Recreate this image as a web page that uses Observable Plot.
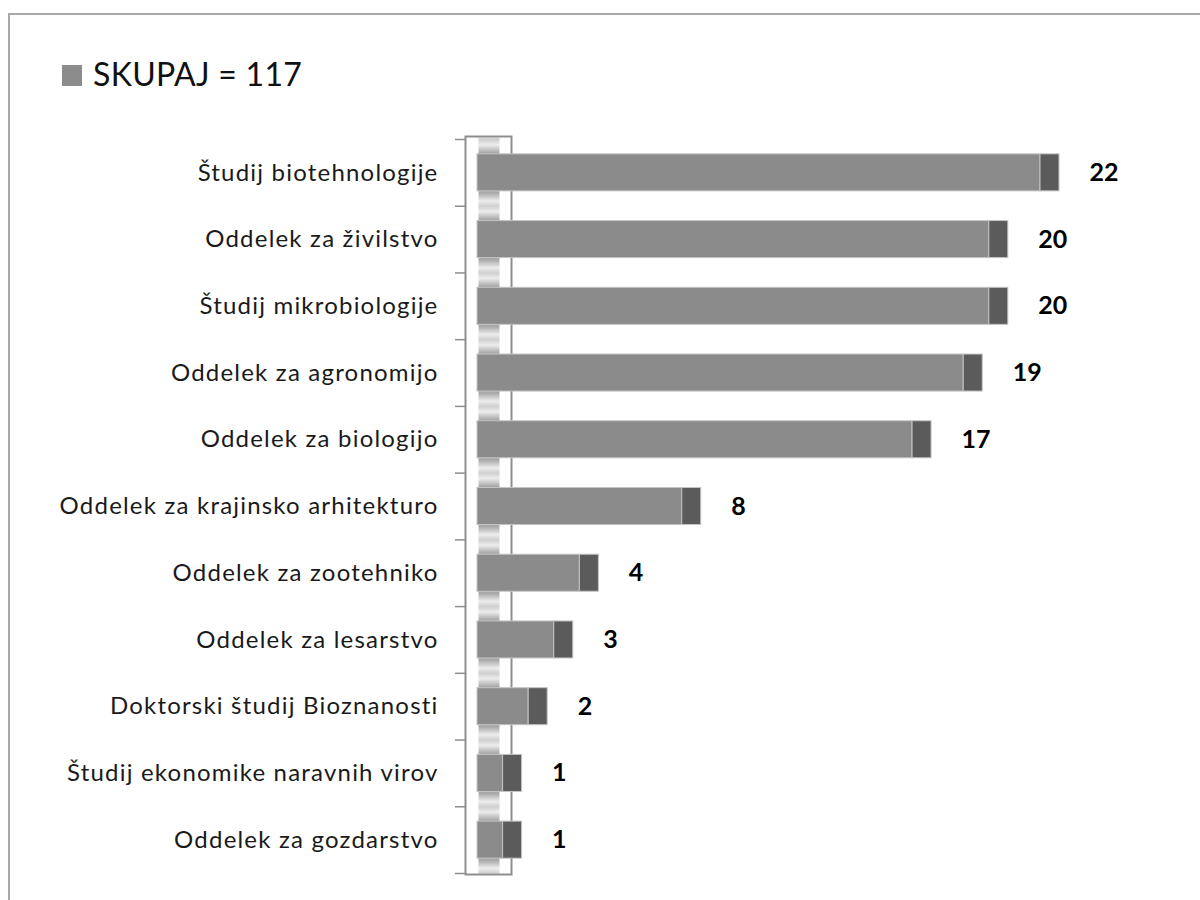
<!DOCTYPE html>
<html>
<head>
<meta charset="utf-8">
<script src="https://cdn.jsdelivr.net/npm/d3@7"></script>
<script src="https://cdn.jsdelivr.net/npm/@observablehq/plot@0.6"></script>
<style>
  html, body { margin: 0; padding: 0; background: #fff; }
  #page { position: relative; width: 1200px; height: 900px; overflow: hidden; font-family: Lato, "Open Sans", sans-serif; }
  #border { position: absolute; left: 8px; top: 13px; width: 1300px; height: 1000px; border-left: 2px solid #a8a8a8; border-top: 2px solid #a8a8a8; }
  #legend { position: relative; height: 110px; }
  #legend .sw { position: absolute; left: 62px; top: 65px; width: 20px; height: 21px; background: #8c8c8c; }
  #legend .lt { position: absolute; left: 93px; top: 55px; font-size: 32px; line-height: 38px; color: #111; letter-spacing: 0.3px; }
  #chart { position: relative; }
  #chart svg { display: block; }
  .ylab text { letter-spacing: 1.2px; }
</style>
</head>
<body>
<div id="page">
  <div id="border"></div>
  <div id="legend"><div class="sw"></div><div class="lt"></div></div>
  <div id="chart"></div>
</div>
<script>
const legendLabel = "SKUPAJ = 117";
const categories = [
  "Študij biotehnologije",
  "Oddelek za živilstvo",
  "Študij mikrobiologije",
  "Oddelek za agronomijo",
  "Oddelek za biologijo",
  "Oddelek za krajinsko arhitekturo",
  "Oddelek za zootehniko",
  "Oddelek za lesarstvo",
  "Doktorski študij Bioznanosti",
  "Študij ekonomike naravnih virov",
  "Oddelek za gozdarstvo"
];
const values = [22, 20, 20, 19, 17, 8, 4, 3, 2, 1, 1];

const data = categories.map((name, i) => ({name, value: values[i]}));
document.querySelector("#legend .lt").textContent = legendLabel;

const W = 1200, H = 790;
const mTop = 29, mBottom = 27, mLeft = 477, mRight = 160;
const step = (H - mTop - mBottom) / categories.length;

const plot = Plot.plot({
  width: W,
  height: H,
  marginTop: mTop,
  marginBottom: mBottom,
  marginLeft: mLeft,
  marginRight: mRight,
  style: {fontFamily: "Lato, 'Open Sans', sans-serif", background: "transparent"},
  x: {domain: [0, d3.max(values)], axis: null},
  y: {domain: categories, paddingInner: 0.445, paddingOuter: 0.2225, round: false, label: null},
  marks: [
    // back wall strip
    Plot.frame({fill: "url(#stripGrad)", stroke: "none", insetLeft: 1, insetRight: 541, insetTop: -2, insetBottom: 0}),
    // wall box
    Plot.frame({fill: "none", stroke: "#8e8e8e", strokeWidth: 2, insetLeft: -12, insetRight: 529, insetTop: -3, insetBottom: -1}),
    // boundary ticks
    Plot.ruleY(categories, {y: d => d, dy: -step / 2, stroke: "#8e8e8e", strokeWidth: 1.5, insetLeft: -22, insetRight: 575}),
    Plot.ruleY(categories.slice(-1), {y: d => d, dy: step / 2, stroke: "#8e8e8e", strokeWidth: 1.5, insetLeft: -22, insetRight: 575}),
    // front faces
    Plot.barX(data, {x: "value", y: "name", fill: "#8b8b8b", stroke: "#c4c4c4", strokeWidth: 1}),
    // side faces
    Plot.barX(data, {x1: "value", x2: "value", y: "name", fill: "#5b5b5b", stroke: "#c4c4c4", strokeWidth: 1, insetRight: -19}),
    // value labels
    Plot.text(data, {x: "value", y: "name", text: d => String(d.value), textAnchor: "start", dx: 49, fontWeight: "bold", fontSize: 25, fill: "#000"}),
    // category labels
    Plot.axisY({tickSize: 0, tickPadding: 39, fontSize: 24, fill: "#1a1a1a", label: null, className: "ylab"})
  ]
});

// gradient for the wall strip
const ns = "http://www.w3.org/2000/svg";
const defs = document.createElementNS(ns, "defs");
const grad = document.createElementNS(ns, "linearGradient");
grad.setAttribute("id", "stripGrad");
grad.setAttribute("gradientUnits", "userSpaceOnUse");
grad.setAttribute("x1", 0); grad.setAttribute("x2", 0);
grad.setAttribute("y1", mTop); grad.setAttribute("y2", mTop + step);
grad.setAttribute("spreadMethod", "repeat");
[[0, "#cfcfcf"], [0.08, "#ececec"], [0.2, "#a8a8a8"], [0.8, "#a8a8a8"], [0.92, "#ececec"], [1, "#cfcfcf"]].forEach(([o, c]) => {
  const s = document.createElementNS(ns, "stop");
  s.setAttribute("offset", o); s.setAttribute("stop-color", c);
  grad.appendChild(s);
});
defs.appendChild(grad);
plot.insertBefore(defs, plot.firstChild);

// letter spacing on category labels (fallback if className unsupported)
plot.querySelectorAll('g[aria-label="y-axis tick label"] text').forEach(t => t.style.letterSpacing = "1.2px");

document.getElementById("chart").appendChild(plot);
</script>
</body>
</html>
